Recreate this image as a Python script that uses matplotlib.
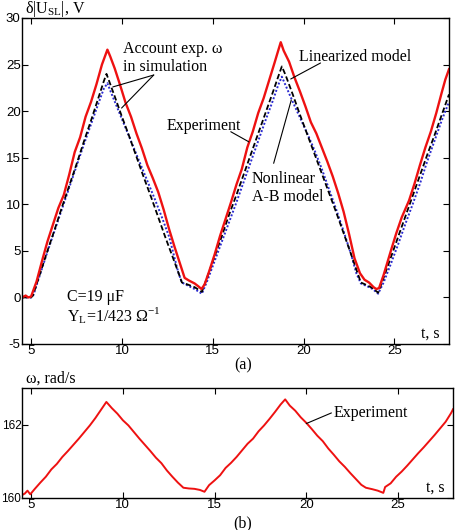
import matplotlib
matplotlib.use("Agg")
import matplotlib.pyplot as plt

plt.rcParams["axes.unicode_minus"] = False

# top panel: delta|U_SL|, V  (experiment)
t_exp = [4.50, 4.70, 4.85, 5.00, 5.30, 5.60, 5.90, 6.20, 6.50, 6.80, 7.10, 7.40, 7.70, 8.00,
         8.30, 8.60, 8.90, 9.05, 9.20, 9.35, 9.60, 9.90, 10.20, 10.50, 10.80, 11.10, 11.40,
         11.70, 12.00, 12.30, 12.60, 12.90, 13.20, 13.45, 13.70, 14.00, 14.20, 14.38, 14.55,
         14.80, 15.10, 15.40, 15.70, 16.00, 16.30, 16.60, 16.90, 17.20, 17.50, 17.80, 18.10,
         18.40, 18.60, 18.74, 18.90, 19.20, 19.50, 19.80, 20.10, 20.40, 20.70, 21.00, 21.30,
         21.60, 21.90, 22.20, 22.50, 22.80, 23.10, 23.35, 23.60, 23.85, 24.00, 24.15, 24.40,
         24.80, 25.10, 25.40, 25.80, 26.10, 26.40, 26.70, 27.00, 27.30, 27.60, 27.80, 28.00]
u_exp = [0.0, 0.2, 0.0, 0.1, 1.7, 3.9, 6.0, 7.8, 9.6, 11.0, 13.2, 15.6, 17.2, 19.4,
         21.0, 22.9, 25.0, 25.8, 26.6, 25.9, 24.6, 22.8, 20.9, 19.4, 17.6, 16.0, 14.2,
         12.8, 11.3, 9.4, 7.3, 5.4, 3.6, 2.1, 1.8, 1.5, 1.2, 0.9, 1.4,
         2.8, 4.6, 6.6, 8.4, 10.2, 12.1, 13.8, 16.1, 17.8, 19.8, 21.4, 23.3,
         25.2, 26.5, 27.4, 26.5, 25.3, 23.6, 22.1, 20.5, 18.8, 17.6, 16.1, 14.6,
         13.0, 11.2, 9.2, 6.8, 4.2, 2.6, 1.9, 1.6, 1.1, 0.9, 1.0, 2.4,
         5.0, 6.9, 8.6, 10.4, 12.2, 14.2, 16.1, 17.8, 19.8, 22.0, 23.4, 24.5]

# linearized model (black dashed)
t_lin = [4.50, 5.00, 5.10, 5.50, 5.90, 6.30, 6.70, 7.10, 7.50, 7.90, 8.30, 8.70, 9.00, 9.15,
         9.30, 9.60, 10.00, 10.40, 10.80, 11.20, 11.60, 12.00, 12.40, 12.80, 13.10, 13.30,
         13.60, 14.00, 14.40, 14.70, 15.10, 15.50, 15.90, 16.30, 16.70, 17.10, 17.50, 17.90,
         18.30, 18.60, 18.80, 19.00, 19.40, 19.80, 20.20, 20.60, 21.00, 21.40, 21.80, 22.20,
         22.60, 22.90, 23.15, 23.50, 23.80, 24.10, 24.40, 24.80, 25.20, 25.60, 26.00, 26.40,
         26.80, 27.20, 27.60, 28.00]
u_lin = [0.0, 0.0, 0.2, 2.6, 5.0, 7.3, 9.7, 12.0, 14.3, 16.7, 19.0, 21.4, 23.2, 24.0,
         23.2, 21.6, 19.4, 17.3, 15.1, 12.9, 10.8, 8.6, 6.4, 4.3, 2.7, 1.6,
         1.4, 1.1, 0.6, 2.2, 4.4, 6.6, 8.9, 11.0, 13.2, 15.4, 17.6, 19.8,
         22.0, 23.7, 24.8, 23.9, 21.8, 19.6, 17.5, 15.4, 13.3, 11.2, 9.1, 6.9,
         4.7, 3.0, 1.6, 1.3, 1.0, 0.5, 2.1, 4.3, 6.5, 8.7, 10.9, 13.1,
         15.3, 17.4, 19.6, 21.8]

# nonlinear A-B model (blue dotted)
t_ab = [4.50, 5.00, 5.10, 5.50, 5.90, 6.30, 6.70, 7.10, 7.50, 7.90, 8.30, 8.70, 9.00, 9.20,
        9.40, 9.80, 10.20, 10.60, 11.00, 11.40, 11.80, 12.20, 12.60, 12.90, 13.10, 13.30,
        13.60, 14.00, 14.40, 14.70, 15.10, 15.50, 15.90, 16.30, 16.70, 17.10, 17.50, 17.90,
        18.30, 18.60, 18.80, 19.00, 19.40, 19.80, 20.20, 20.60, 21.00, 21.40, 21.80, 22.20,
        22.60, 22.90, 23.15, 23.50, 23.80, 24.10, 24.40, 24.80, 25.20, 25.60, 26.00, 26.40,
        26.80, 27.20, 27.60, 28.00]
u_ab = [0.0, 0.0, 0.1, 2.5, 4.9, 7.2, 9.5, 11.8, 14.1, 16.4, 18.6, 20.8, 22.4, 23.0,
        22.0, 20.1, 18.2, 16.3, 14.4, 12.5, 10.6, 8.6, 6.5, 4.2, 2.7, 1.6,
        1.3, 0.9, 0.4, 1.8, 3.9, 6.0, 8.1, 10.2, 12.4, 14.6, 16.8, 19.0,
        21.1, 22.8, 23.7, 22.8, 21.0, 19.3, 17.6, 15.8, 13.8, 11.6, 9.4, 7.1,
        4.7, 2.6, 1.5, 1.2, 0.9, 0.4, 1.6, 3.6, 5.7, 7.9, 10.0, 12.2,
        14.6, 16.8, 19.0, 21.0]

# bottom panel: omega, rad/s
t_w = [4.50, 4.65, 4.80, 4.95, 5.20, 5.50, 5.80, 6.10, 6.40, 6.70, 7.00, 7.30, 7.60, 7.90,
       8.20, 8.50, 8.80, 9.10, 9.40, 9.70, 10.00, 10.30, 10.60, 10.90, 11.20, 11.50, 11.80,
       12.10, 12.40, 12.70, 13.00, 13.30, 13.60, 13.90, 14.20, 14.45, 14.70, 15.00, 15.30,
       15.60, 15.90, 16.20, 16.50, 16.80, 17.10, 17.40, 17.70, 18.00, 18.30, 18.60, 18.85,
       19.10, 19.40, 19.70, 20.00, 20.30, 20.60, 20.90, 21.20, 21.50, 21.80, 22.10, 22.40,
       22.70, 23.00, 23.25, 23.60, 23.90, 24.20, 24.30, 24.60, 24.90, 25.20, 25.50, 25.80,
       26.10, 26.40, 26.70, 27.00, 27.30, 27.60, 27.90, 28.00]
w = [160.08, 160.12, 160.20, 160.10, 160.25, 160.42, 160.58, 160.78, 160.93, 161.12, 161.28,
     161.45, 161.62, 161.80, 161.98, 162.18, 162.40, 162.62, 162.45, 162.30, 162.12, 161.98,
     161.80, 161.62, 161.45, 161.28, 161.10, 160.95, 160.75, 160.58, 160.42, 160.28, 160.26,
     160.25, 160.22, 160.17, 160.35, 160.48, 160.62, 160.82, 160.96, 161.12, 161.30, 161.48,
     161.62, 161.82, 161.98, 162.16, 162.35, 162.55, 162.69, 162.52, 162.38, 162.20, 162.05,
     161.88, 161.70, 161.55, 161.35, 161.18, 161.00, 160.85, 160.68, 160.52, 160.36, 160.28,
     160.24, 160.20, 160.14, 160.30, 160.40, 160.58, 160.72, 160.88, 161.05, 161.22, 161.38,
     161.55, 161.72, 161.90, 162.08, 162.32, 162.42]

serif = "Liberation Serif"
sans = "Liberation Sans"
W, H = 462, 530

fig = plt.figure(figsize=(W / 100, H / 100), dpi=100)
ax1 = fig.add_axes([22 / W, 1 - 344 / H, (449 - 22) / W, (344 - 18) / H])
ax2 = fig.add_axes([22 / W, 1 - 498 / H, (453 - 22) / W, (498 - 388) / H])

ax1.plot(t_ab, u_ab, color="#2a2ad0", lw=1.4, ls=(0, (1, 1)))
ax1.plot(t_lin, u_lin, color="black", lw=1.3, ls=(0, (3, 1.5)))
ax1.plot(t_exp, u_exp, color="#ee1111", lw=1.7)
ax1.set_xlim(4.5, 28)
ax1.set_ylim(-5, 30)
ax1.set_yticks(range(-5, 31, 5))
ax1.set_xticks([5, 10, 15, 20, 25])

ax2.plot(t_w, w, color="#ee1111", lw=1.4)
ax2.set_xlim(4.5, 28)
ax2.set_ylim(160, 163)
ax2.set_yticks([160, 162])
ax2.set_xticks([5, 10, 15, 20, 25])

for ax in (ax1, ax2):
    ax.tick_params(direction="in", top=True, right=True, length=4, width=0.8, pad=1,
                   labelsize=9.5)
    for s in ax.spines.values():
        s.set_linewidth(1.0)
# the 3-digit omega labels have to fit left of the axes
ax2.tick_params(axis="y", labelsize=8.5, pad=0.5)
for ax in (ax1, ax2):
    for lab in ax.get_xticklabels() + ax.get_yticklabels():
        lab.set_fontfamily(sans)

lk = dict(arrowprops=dict(arrowstyle="-", lw=0.8, color="black", shrinkA=0, shrinkB=0))
tk = dict(family=serif, fontsize=11.5, ha="left", va="center")

# annotations, top panel
ax1.text(10.05, 25.7, "Account exp. ω\nin simulation", linespacing=1.2, **tk)
ax1.annotate("", xy=(9.5, 22.6), xytext=(11.75, 23.88), **lk)
ax1.annotate("", xy=(9.98, 20.33), xytext=(11.75, 23.88), **lk)
ax1.text(12.47, 18.4, "Experiment", **tk)
ax1.annotate("", xy=(16.99, 16.7), xytext=(15.99, 17.79), **lk)
ax1.text(19.73, 25.81, "Linearized model", **tk)
ax1.annotate("", xy=(19.29, 23.45), xytext=(20.93, 25.17), **lk)
ax1.text(17.14, 11.74, "Nonlinear\nA-B model", linespacing=1.2, **tk)
ax1.annotate("", xy=(19.32, 21.2), xytext=(18.35, 14.4), **lk)
ax1.text(6.98, 0.03, "C=19 μF", **tk)
ax1.text(6.98, -2.0, "Y$_\\mathregular{L}$=1/423 Ω$^\\mathregular{-1}$", **tk)
ax1.text(26.45, -3.94, "t, s", **tk)

# annotations, bottom panel
ax2.text(21.47, 162.32, "Experiment", **tk)
ax2.annotate("", xy=(20.0, 162.03), xytext=(21.37, 162.32), **lk)
ax2.text(26.55, 160.27, "t, s", **tk)

fig.text(25 / W, 1 - 9 / H, "δ|U$_\\mathregular{SL}$|, V", family=serif, fontsize=11.5,
         ha="left", va="center")
fig.text(26 / W, 1 - 379 / H, "ω, rad/s", family=serif, fontsize=11.5, ha="left", va="center")
fig.text(243 / W, 1 - 365 / H, "(a)", family=serif, fontsize=11.5, ha="center", va="center")
fig.text(243 / W, 1 - 523 / H, "(b)", family=serif, fontsize=11.5, ha="center", va="center")

fig.savefig("out.png", dpi=100)
